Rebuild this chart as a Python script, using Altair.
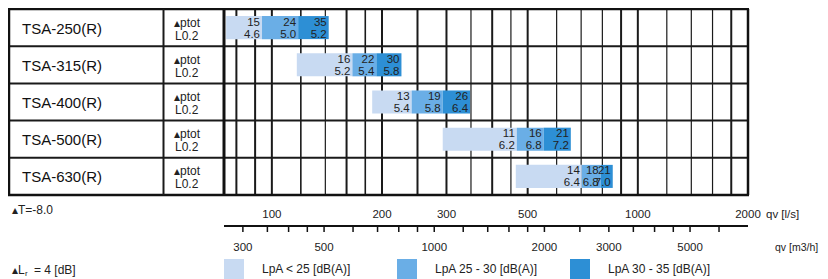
import altair as alt
import pandas as pd

# ---------------- data ----------------
models = ["TSA-250(R)", "TSA-315(R)", "TSA-400(R)", "TSA-500(R)", "TSA-630(R)"]
# segment boundaries along qv [l/s] for each model (start, <25, 25-30, 30-35 ends)
edges = [
    [75, 94, 118, 143],
    [117, 166, 193, 226],
    [188, 241, 293, 348],
    [293, 467, 553, 656],
    [464, 703, 792, 854],
]
ptot = [[15, 24, 35], [16, 22, 30], [13, 19, 26], [11, 16, 21], [14, 18, 21]]
l02 = [
    ["4.6", "5.0", "5.2"],
    ["5.2", "5.4", "5.8"],
    ["5.4", "5.8", "6.4"],
    ["6.2", "6.8", "7.2"],
    ["6.4", "6.8", "7.0"],
]
levels = ["LpA < 25 [dB(A)]", "LpA 25 - 30 [dB(A)]", "LpA 30 - 35 [dB(A)]"]
level_colors = ["#c8daf2", "#6aaee6", "#2d8fd5"]

grid_qv = [80, 90, 100, 120, 140, 160, 180, 200, 250, 300, 350, 400, 450,
           500, 600, 700, 800, 900, 1000, 1200, 1400, 1600, 1800]
grid_w = [2, 2, 2, 1.6, 1.2, 2, 1.6, 2, 2, 2, 1.2, 2, 1.2,
          2, 1.2, 1.2, 1.2, 2, 2, 1.2, 1.2, 1.2, 2]

ls_labels = [100, 200, 300, 500, 1000, 2000]
m3h_ticks = [300, 350, 400, 450, 500, 600, 700, 800, 900, 1000, 1200, 1400,
             1600, 1800, 2000, 2500, 3000, 3500, 4000, 4500, 5000, 6000]
m3h_labels = [300, 500, 1000, 2000, 3000, 5000]

row_lines = [1, 2, 3, 4]
frame_lines = [0, 5]

FONT = "Liberation Sans"

# ---------------- tables ----------------
seg_rows = []
for i, m in enumerate(models):
    for k in range(3):
        seg_rows.append(dict(
            model=m, y0=i + 0.19, y1=i + 0.81, yc=i + 0.5,
            q0=edges[i][k], q1=edges[i][k + 1], level=levels[k],
            ptot=str(ptot[i][k]), l02=l02[i][k]))
seg = pd.DataFrame(seg_rows)
names = pd.DataFrame({"model": models, "yc": [i + 0.5 for i in range(len(models))]})
grid = pd.DataFrame({"q": grid_qv, "w": grid_w, "top": 0, "bot": 5})
hlines = pd.DataFrame({"b": row_lines})
frame = pd.DataFrame({"b": frame_lines})
axis_line = pd.DataFrame({"a": [74], "b": [2000]})
ticks = pd.DataFrame({"q": [v / 3.6 for v in m3h_ticks]})
ls_df = pd.DataFrame({"q": ls_labels, "t": [str(v) for v in ls_labels]})
m3_df = pd.DataFrame({"q": [v / 3.6 for v in m3h_labels], "t": [str(v) for v in m3h_labels]})
edge_df = pd.DataFrame({"top": [0], "bot": [5], "q": [2000]})

xs = alt.Scale(type="log", domain=[74, 2000], range=[216, 740], nice=False)
ys = alt.Scale(domain=[0, 5], range=[1, 187], nice=False, zero=False)

X = lambda f: alt.X(f, scale=xs, axis=None)
Y = lambda f: alt.Y(f, scale=ys, axis=None)

# ---------------- layers ----------------
vgrid = alt.Chart(grid).mark_rule(color="#1a1a1a").encode(
    x=X("q:Q"), y=Y("top:Q"), y2="bot:Q",
    strokeWidth=alt.StrokeWidth("w:Q", scale=None))

hgrid = alt.Chart(hlines).mark_rule(color="#1a1a1a", strokeWidth=2).encode(
    x=alt.value(1), x2=alt.value(740), y=Y("b:Q"))

frame_h = alt.Chart(frame).mark_rule(color="#111", strokeWidth=2.5).encode(
    x=alt.value(0), x2=alt.value(741), y=Y("b:Q"))

frame_l = alt.Chart(edge_df).mark_rule(color="#111", strokeWidth=2.5).encode(
    x=alt.value(1), y=Y("top:Q"), y2="bot:Q")
frame_r = alt.Chart(edge_df).mark_rule(color="#111", strokeWidth=2.5).encode(
    x=X("q:Q"), y=Y("top:Q"), y2="bot:Q")
col_sep1 = alt.Chart(edge_df).mark_rule(color="#1a1a1a", strokeWidth=2).encode(
    x=alt.value(155.5), y=Y("top:Q"), y2="bot:Q")
col_sep2 = alt.Chart(edge_df).mark_rule(color="#111", strokeWidth=3).encode(
    x=alt.value(216), y=Y("top:Q"), y2="bot:Q")

bars = alt.Chart(seg).mark_bar(strokeWidth=0).encode(
    x=X("q0:Q"), x2="q1:Q", y=Y("y0:Q"), y2="y1:Q",
    color=alt.Color("level:N",
                    scale=alt.Scale(domain=levels, range=level_colors),
                    legend=alt.Legend(
                        title=None, orient="none", legendX=216, legendY=251,
                        direction="horizontal", symbolType="square",
                        symbolSize=400, symbolStrokeWidth=0,
                        labelFont=FONT, labelFontSize=12, labelColor="#222",
                        labelOffset=18, columnPadding=32, gridAlign="all",
                        padding=0)))

t_top = alt.Chart(seg).mark_text(
    align="right", baseline="middle", dx=-2, dy=-5, fontSize=11.5,
    font=FONT, color="#222").encode(x=X("q1:Q"), y=Y("yc:Q"), text="ptot:N")
t_bot = alt.Chart(seg).mark_text(
    align="right", baseline="middle", dx=-2, dy=7, fontSize=11.5,
    font=FONT, color="#222").encode(x=X("q1:Q"), y=Y("yc:Q"), text="l02:N")

name_t = alt.Chart(names).mark_text(
    align="left", baseline="middle", dy=1, fontSize=15, font=FONT,
    color="#111").encode(x=alt.value(14), y=Y("yc:Q"), text="model:N")
ptot_t = alt.Chart(names).mark_text(
    align="left", baseline="middle", dy=-5, fontSize=12, font=FONT,
    color="#222", text="\u25b4ptot").encode(x=alt.value(166), y=Y("yc:Q"))
l02_t = alt.Chart(names).mark_text(
    align="left", baseline="middle", dy=8, fontSize=12, font=FONT,
    color="#222", text="L0.2").encode(x=alt.value(167), y=Y("yc:Q"))

ax_line = alt.Chart(axis_line).mark_rule(color="#111", strokeWidth=2).encode(
    x=X("a:Q"), x2="b:Q", y=alt.value(218))
ax_ticks = alt.Chart(ticks).mark_rule(color="#111", strokeWidth=1.5).encode(
    x=X("q:Q"), y=alt.value(218), y2=alt.value(224))
ls_t = alt.Chart(ls_df).mark_text(
    align="center", baseline="middle", fontSize=11.5, font=FONT,
    color="#222").encode(x=X("q:Q"), y=alt.value(207), text="t:N")
m3_t = alt.Chart(m3_df).mark_text(
    align="center", baseline="middle", fontSize=11.5, font=FONT,
    color="#222").encode(x=X("q:Q"), y=alt.value(240), text="t:N")

lab_ls = alt.Chart(axis_line).mark_text(
    align="left", baseline="middle", fontSize=11.5, font=FONT, color="#222",
    text="qv [l/s]").encode(x=alt.value(758), y=alt.value(207))
lab_m3 = alt.Chart(axis_line).mark_text(
    align="left", baseline="middle", fontSize=10.5, font=FONT, color="#222",
    text="qv [m3/h]").encode(x=alt.value(767), y=alt.value(240))
dT = alt.Chart(axis_line).mark_text(
    align="left", baseline="middle", fontSize=12, font=FONT, color="#222",
    text="\u25b4T=-8.0").encode(x=alt.value(4), y=alt.value(202))
dL = alt.Chart(axis_line).mark_text(
    align="left", baseline="middle", fontSize=12, font=FONT, color="#222",
    text="\u25b4L").encode(x=alt.value(4), y=alt.value(262))
dL_sub = alt.Chart(axis_line).mark_text(
    align="left", baseline="middle", fontSize=8, font=FONT, color="#222",
    text="r").encode(x=alt.value(17), y=alt.value(266))
dL_val = alt.Chart(axis_line).mark_text(
    align="left", baseline="middle", fontSize=12, font=FONT, color="#222",
    text="= 4 [dB]").encode(x=alt.value(26), y=alt.value(262))

chart = alt.layer(
    vgrid, hgrid, bars, t_top, t_bot, frame_h, frame_l, frame_r, col_sep1,
    col_sep2, name_t, ptot_t, l02_t, ax_line, ax_ticks, ls_t, m3_t, lab_ls,
    lab_m3, dT, dL, dL_sub, dL_val
).properties(
    width=812, height=271, padding=0, autosize="none"
).configure_view(strokeWidth=0)

chart.save("out.html", embed_options={"renderer": "svg", "actions": False})
